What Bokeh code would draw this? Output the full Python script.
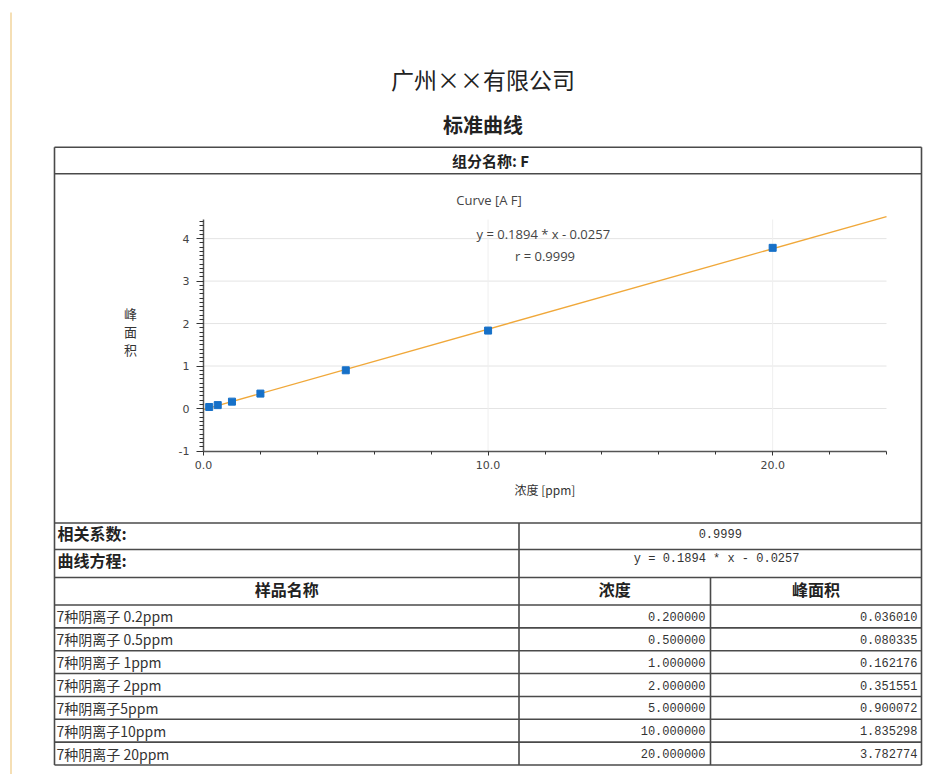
import numpy as np
from bokeh.plotting import figure
from bokeh.models import Range1d, FixedTicker, PrintfTickFormatter, LinearAxis, Grid
from bokeh.embed import file_html
from bokeh.resources import INLINE
from bokeh.core.properties import value

# ---------------- data ----------------
company = "广州××有限公司"
report_title = "标准曲线"
component_label = "组分名称: F"
curve_title = "Curve [A F]"
x_label = "浓度 [ppm]"
y_label = "峰面积"
corr_label = "相关系数:"
eq_label = "曲线方程:"
header_labels = ["样品名称", "浓度", "峰面积"]
sample_names = ["7种阴离子  0.2ppm", "7种阴离子  0.5ppm", "7种阴离子  1ppm",
                "7种阴离子  2ppm", "7种阴离子5ppm", "7种阴离子10ppm", "7种阴离子  20ppm"]
concentrations = [0.2, 0.5, 1.0, 2.0, 5.0, 10.0, 20.0]
peak_areas = [0.036010, 0.080335, 0.162176, 0.351551, 0.900072, 1.835298, 3.782774]
slope = 0.1894
intercept = -0.0257
r_value = 0.9999
x_major_ticks = [0, 10, 20]
y_major_ticks = [-1, 0, 1, 2, 3, 4]
x_lim = (0.0, 24.0)
y_lim = (-1.0, 4.45)

eq_text = f"y = {slope:.4f} * x  - {abs(intercept):.4f}"
r_text = f"r = {r_value:.4f}"

# ---------------- layout constants (page pixels) ----------------
W, H = 950, 774
BOX_L, BOX_R, BOX_T = 54, 921, 146.7
ROW1_B = 173.3
YEL_X = 10.5
LINE_C = "#4a4a4a"
LINE_W = 1.6
CJK = "Noto Sans CJK SC"
MONO = "Liberation Mono"
SANS = "Open Sans"
# chart frame in page pixels
CH_L, CH_R, CH_T, CH_B = 203.0, 886.0, 219.0, 450.5

p = figure(width=W, height=H, x_range=Range1d(0, W), y_range=Range1d(H, 0),
           output_backend="svg", toolbar_location=None, min_border=0,
           x_axis_location=None, y_axis_location=None, title=None)
p.outline_line_color = None
p.background_fill_color = "white"
p.border_fill_color = "white"
for r in list(p.center):
    if isinstance(r, Grid):
        r.visible = False
        r.grid_line_color = None

# chart coordinate system mapped onto the page
SX = (CH_R - CH_L) / (x_lim[1] - x_lim[0])
SY = (CH_B - CH_T) / (y_lim[1] - y_lim[0])
p.extra_x_ranges = {"cx": Range1d(x_lim[0] - CH_L / SX, x_lim[1] + (W - CH_R) / SX)}
p.extra_y_ranges = {"cy": Range1d(y_lim[0] - (H - CH_B) / SY, y_lim[1] + CH_T / SY)}
C = dict(x_range_name="cx", y_range_name="cy")


def txt(x, y, t, size, font=CJK, align="center", bold=False, color="#222222", **kw):
    p.text(x=[x], y=[y], text=[t], text_font=value(font), text_font_size=value(size),
           text_align=align, text_baseline="middle", text_color=color,
           text_font_style="bold" if bold else "normal", **kw)


# ---------------- page decorations ----------------
p.segment(x0=[YEL_X], y0=[12], x1=[YEL_X], y1=[H], line_color="#f2d49c", line_width=1.5)
txt(482.5, 78, company, "23px")
txt(482.5, 124, report_title, "20px", bold=True)

# table / box lines
COL1, COL2 = 518.5, 710
fixed_lines = [522.5, 549, 577, 604.5]
table_bottom = 764.5
n = len(sample_names)
row_h = (table_bottom - fixed_lines[-1]) / n
hlines = [BOX_T, ROW1_B] + fixed_lines + [fixed_lines[-1] + row_h * (i + 1) for i in range(n)]
p.segment(x0=[BOX_L] * len(hlines), y0=hlines, x1=[BOX_R] * len(hlines), y1=hlines,
          line_color=LINE_C, line_width=LINE_W)
p.segment(x0=[BOX_L, BOX_R, COL1, COL2], y0=[BOX_T, BOX_T, fixed_lines[0], fixed_lines[2]],
          x1=[BOX_L, BOX_R, COL1, COL2], y1=[table_bottom] * 4,
          line_color=LINE_C, line_width=LINE_W)

txt(490, 159.5, component_label, "15px", bold=True)

# ---------------- chart ----------------
txt(488.5, 199, curve_title, "13px", font=SANS, color="#444444")
p.text(x=[130], y=[331], text=["\n".join(y_label)], text_font=value(CJK),
       text_font_size=value("13px"), text_align="center", text_baseline="middle",
       text_color="#333333", text_line_height=0.93)

# grid lines at the major ticks
gy = [t for t in y_major_ticks if t > y_lim[0]]
p.segment(x0=[x_lim[0]] * len(gy), x1=[x_lim[1]] * len(gy), y0=gy, y1=gy,
          line_color="#e4e4e4", line_width=1, **C)
gx = [t for t in x_major_ticks if t > x_lim[0]]
p.segment(x0=gx, x1=gx, y0=[y_lim[0]] * len(gx), y1=[y_lim[1]] * len(gx),
          line_color="#efefef", line_width=1, **C)

xt = FixedTicker(ticks=x_major_ticks,
                 minor_ticks=[v for v in np.arange(x_lim[0], x_lim[1] + 0.01, 2).tolist()
                              if v not in x_major_ticks])
yt = FixedTicker(ticks=y_major_ticks,
                 minor_ticks=[round(v, 1) for v in np.arange(y_lim[0], y_lim[1], 0.1).tolist()
                              if abs(v - round(v)) > 1e-6])

xaxis = LinearAxis(ticker=xt, formatter=PrintfTickFormatter(format="%.1f"),
                   fixed_location=y_lim[0], bounds=x_lim, axis_label=x_label, **C)
yaxis = LinearAxis(ticker=yt, formatter=PrintfTickFormatter(format="%d"),
                   fixed_location=x_lim[0], bounds=y_lim, **C)
for ax in (xaxis, yaxis):
    ax.axis_line_color = "#555555"
    ax.axis_line_width = 1.5
    ax.major_tick_line_color = "#333333"
    ax.minor_tick_line_color = "#333333"
    ax.major_tick_in = 0
    ax.minor_tick_in = 0
    ax.major_label_text_font = "DejaVu Sans"
    ax.major_label_text_font_size = "11px"
    ax.major_label_text_color = "#444444"
yaxis.major_tick_out = 7
yaxis.minor_tick_out = 4
yaxis.major_label_standoff = 7
xaxis.major_tick_out = 4
xaxis.minor_tick_out = 3
xaxis.major_label_standoff = 6
xaxis.axis_label_text_font = CJK
xaxis.axis_label_text_font_size = "12px"
xaxis.axis_label_text_font_style = "normal"
xaxis.axis_label_text_color = "#333333"
xaxis.axis_label_standoff = 8
p.add_layout(xaxis, "below")
p.add_layout(yaxis, "left")

fit_x = np.array(x_lim)
fit_y = slope * fit_x + intercept
p.line(fit_x, fit_y, line_color="#f0a83a", line_width=1.3, **C)
p.scatter(concentrations, peak_areas, marker="square", size=7,
          fill_color="#1670c8", line_color="#1670c8", **C)

p.text(x=[sum(x_lim) / 2] * 2, y=[4.10, 3.58], text=[eq_text, r_text], text_font=value(SANS),
       text_font_size=value("13px"), text_align="center", text_baseline="middle",
       text_color="#444444", **C)

# ---------------- table texts ----------------
txt(57, 532.5, corr_label, "16px", align="left", bold=True)
txt(57, 559.5, eq_label, "16px", align="left", bold=True)
txt((COL1 + BOX_R) / 2, 532.5, f"{r_value:.4f}", "12px", font=MONO, color="#333333")
txt((COL1 + BOX_R) / 2, 558.5, eq_text, "12px", font=MONO, color="#333333")
txt((BOX_L + COL1) / 2, 588, header_labels[0], "16px", bold=True)
txt((COL1 + COL2) / 2, 588, header_labels[1], "16px", bold=True)
txt((COL2 + BOX_R) / 2, 588, header_labels[2], "16px", bold=True)

ys = [fixed_lines[-1] + row_h * (i + 0.5) for i in range(n)]
p.text(x=[56] * n, y=ys, text=sample_names, text_font=value(CJK), text_font_size=value("14px"),
       text_align="left", text_baseline="middle", text_color="#333333")
p.text(x=[COL2 - 5] * n, y=ys, text=[f"{c:.6f}" for c in concentrations], text_font=value(MONO),
       text_font_size=value("12px"), text_align="right", text_baseline="middle", text_color="#333333")
p.text(x=[BOX_R - 4] * n, y=ys, text=[f"{a:.6f}" for a in peak_areas], text_font=value(MONO),
       text_font_size=value("12px"), text_align="right", text_baseline="middle", text_color="#333333")

open("out.html", "w").write(file_html(p, INLINE))
